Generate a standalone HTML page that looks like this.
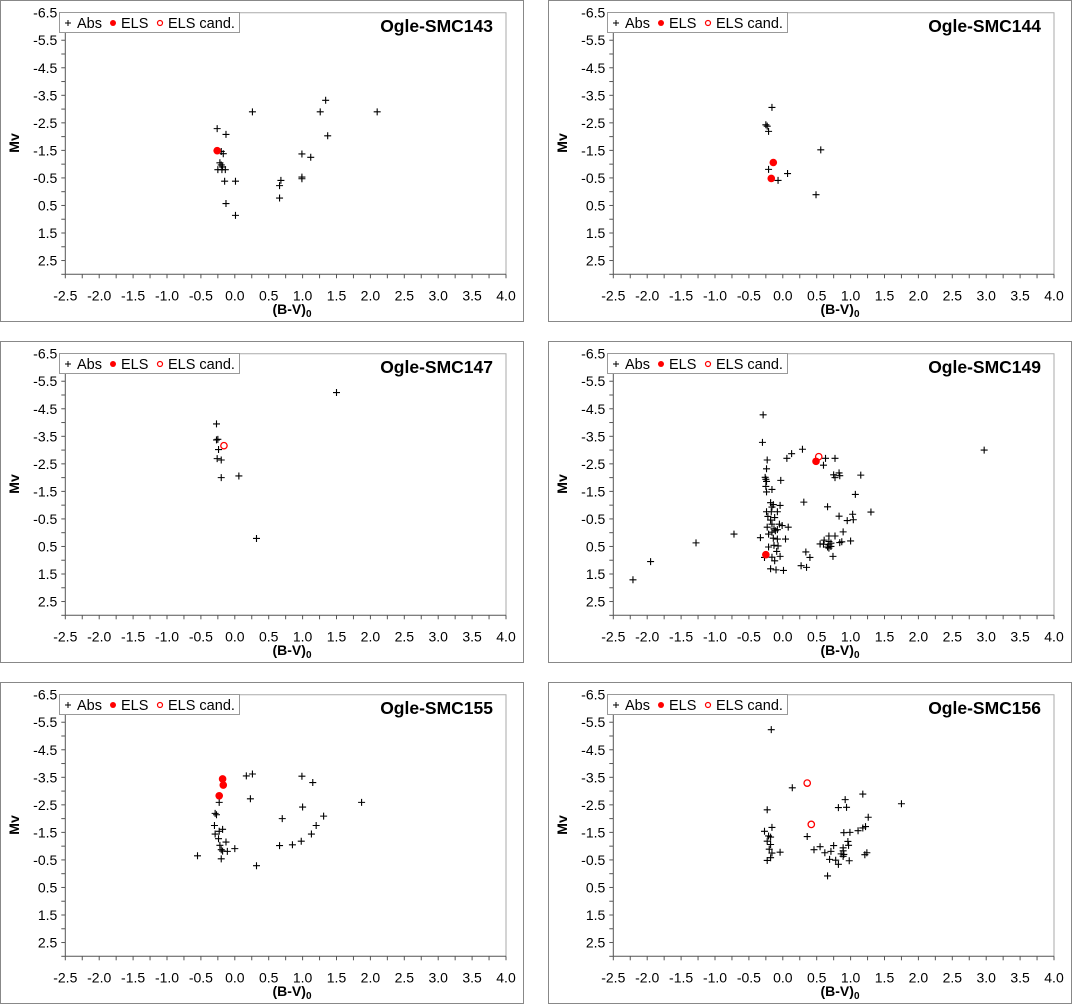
<!DOCTYPE html>
<html><head><meta charset="utf-8">
<style>
html,body{margin:0;padding:0;background:#fff;}
svg{display:block;font-family:"Liberation Sans",Arial,sans-serif;}
</style></head>
<body>
<svg id="c" width="1072" height="1005" viewBox="0 0 1072 1005" xmlns="http://www.w3.org/2000/svg"></svg>
<script>
const panelNames = ["Ogle-SMC143","Ogle-SMC144","Ogle-SMC147","Ogle-SMC149","Ogle-SMC155","Ogle-SMC156"];
const xTickLabels = ["-2.5","-2.0","-1.5","-1.0","-0.5","0.0","0.5","1.0","1.5","2.0","2.5","3.0","3.5","4.0"];
const yTickLabels = ["-6.5","-5.5","-4.5","-3.5","-2.5","-1.5","-0.5","0.5","1.5","2.5"];

const abs143 = [[-0.26,-2.29],[-0.13,-2.08],[0.26,-2.9],[1.34,-3.32],[1.26,-2.9],[2.10,-2.9],[1.37,-2.03],[0.99,-1.37],[1.12,-1.25],[-0.2,-1.46],[-0.17,-1.38],[-0.22,-1.05],[-0.2,-0.97],[-0.18,-0.9],[-0.25,-0.8],[-0.19,-0.8],[-0.14,-0.8],[-0.15,-0.38],[0.01,-0.38],[0.99,-0.53],[0.99,-0.47],[0.68,-0.41],[0.66,-0.22],[0.66,0.23],[-0.13,0.43],[0.01,0.86]];
const els143 = [[-0.26,-1.49]];
const cand143 = [];

const abs144 = [[-0.16,-3.06],[-0.25,-2.43],[-0.23,-2.38],[-0.21,-2.19],[0.56,-1.52],[-0.21,-0.81],[0.07,-0.66],[-0.07,-0.41],[0.49,0.11]];
const els144 = [[-0.14,-1.06],[-0.17,-0.48]];
const cand144 = [];

const abs147 = [[1.50,-5.09],[-0.27,-3.95],[-0.27,-3.37],[-0.25,-3.39],[-0.24,-3.02],[-0.26,-2.69],[-0.2,-2.64],[-0.2,-2.0],[0.06,-2.06],[0.32,0.21]];
const els147 = [];
const cand147 = [[-0.16,-3.16]];

const abs149 = [[-0.29,-4.28],[-0.30,-3.28],[0.29,-3.03],[0.13,-2.87],[0.06,-2.70],[-0.23,-2.64],[-0.24,-2.32],[-0.26,-2.01],[-0.25,-1.94],[-0.24,-1.86],[-0.03,-1.9],[-0.16,-1.57],[-0.25,-1.68],[-0.24,-1.48],[0.63,-2.7],[0.77,-2.7],[0.60,-2.45],[0.75,-2.1],[0.77,-2.0],[0.83,-2.17],[0.84,-2.07],[1.15,-2.09],[1.07,-1.39],[0.31,-1.11],[0.66,-0.94],[1.30,-0.75],[1.03,-0.67],[1.04,-0.47],[0.95,-0.44],[0.83,-0.6],[0.89,-0.03],[1.0,0.3],[0.84,0.36],[0.87,0.33],[0.77,0.12],[0.68,0.12],[0.61,0.27],[0.55,0.41],[0.60,0.42],[0.68,0.32],[0.71,0.38],[0.68,0.44],[0.71,0.5],[0.66,0.52],[0.68,0.56],[0.74,0.86],[0.34,0.7],[0.40,0.9],[0.27,1.2],[0.35,1.26],[-0.18,1.31],[-0.10,1.35],[0.01,1.37],[-0.18,-1.09],[-0.14,-1.02],[-0.16,-0.93],[-0.04,-0.99],[-0.24,-0.76],[-0.17,-0.76],[-0.08,-0.76],[-0.22,-0.59],[-0.12,-0.55],[-0.18,-0.46],[-0.16,-0.31],[-0.05,-0.31],[-0.23,-0.2],[-0.13,-0.14],[-0.08,-0.11],[-0.01,-0.26],[0.08,-0.2],[-0.21,0.05],[-0.16,-0.02],[-0.11,-0.07],[-0.14,0.2],[-0.08,0.23],[0.04,0.23],[-0.21,0.52],[-0.13,0.46],[-0.07,0.48],[-0.09,0.68],[-0.04,0.86],[-0.16,0.89],[-0.12,1.02],[-0.27,0.9],[-0.72,0.05],[-0.33,0.18],[-1.28,0.37],[-1.95,1.05],[-2.21,1.71],[2.97,-3.0]];
const els149 = [[0.49,-2.59],[-0.25,0.80]];
const cand149 = [[0.53,-2.76]];

const abs155 = [[0.26,-3.62],[0.17,-3.55],[0.99,-3.54],[1.15,-3.31],[0.23,-2.72],[-0.23,-2.59],[1.87,-2.59],[1.0,-2.42],[-0.29,-2.19],[-0.27,-2.14],[1.31,-2.09],[0.70,-2.0],[-0.30,-1.75],[1.20,-1.75],[-0.18,-1.61],[-0.23,-1.54],[-0.29,-1.44],[1.13,-1.44],[-0.24,-1.27],[0.98,-1.18],[-0.13,-1.15],[-0.22,-1.03],[0.66,-1.02],[0.85,-1.05],[0.0,-0.91],[-0.2,-0.87],[-0.18,-0.82],[-0.11,-0.81],[-0.55,-0.65],[-0.2,-0.54],[0.32,-0.29]];
const els155 = [[-0.18,-3.44],[-0.17,-3.22],[-0.23,-2.83]];
const cand155 = [];

const abs156 = [[-0.17,-5.23],[0.14,-3.12],[1.18,-2.89],[0.92,-2.69],[0.82,-2.4],[0.94,-2.41],[1.75,-2.54],[-0.23,-2.32],[1.26,-2.05],[-0.16,-1.68],[1.22,-1.71],[1.18,-1.66],[1.11,-1.56],[-0.27,-1.54],[0.9,-1.49],[0.99,-1.5],[-0.21,-1.37],[-0.18,-1.33],[0.36,-1.35],[-0.23,-1.18],[0.96,-1.17],[-0.18,-1.06],[0.75,-1.02],[0.97,-1.03],[0.55,-0.98],[0.89,-0.94],[-0.2,-0.89],[0.46,-0.87],[0.89,-0.83],[-0.04,-0.78],[0.62,-0.76],[0.71,-0.81],[-0.16,-0.75],[0.86,-0.72],[0.9,-0.7],[1.21,-0.69],[1.24,-0.76],[0.89,-0.63],[-0.18,-0.58],[-0.23,-0.48],[0.69,-0.52],[0.78,-0.49],[0.98,-0.47],[0.82,-0.34],[0.66,0.08]];
const els156 = [];
const cand156 = [[0.36,-3.29],[0.42,-1.79]];

const absSets = [abs143,abs144,abs147,abs149,abs155,abs156];
const elsSets = [els143,els144,els147,els149,els155,els156];
const candSets = [cand143,cand144,cand147,cand149,cand155,cand156];

const NS = "http://www.w3.org/2000/svg";
const svg = document.getElementById('c');
function mk(tag, attrs, parent){const e=document.createElementNS(NS,tag);for(const k in attrs)e.setAttribute(k,attrs[k]);(parent||svg).appendChild(e);return e;}

const origins = [[0,0],[548,0],[0,341],[548,341],[0,682],[548,682]];
const X0=65.3, X1=506, Y0=12.7, Y1=274.3, XMIN=-2.5, XMAX=4.0, YMIN=-6.5, YMAX=3.0;

panelNames.forEach((name,i)=>{
  const [ox,oy]=origins[i];
  const g=mk('g',{transform:`translate(${ox},${oy})`});
  
  
  const sx=v=>X0+(v-XMIN)/(XMAX-XMIN)*(X1-X0);
  const sy=v=>Y0+(v-YMIN)/(YMAX-YMIN)*(Y1-Y0);
  const frame=mk('rect',{x:0.5,y:0.5,width:523,height:321,fill:'#fff',stroke:'#888','stroke-width':1},g);
  
  
  const pf=mk('path',{d:`M${X0},${Y0}H${X1}V${Y1}`,fill:'none',stroke:'#aaa','stroke-width':1},g);
  
  
  const yax=mk('line',{x1:X0,y1:Y0,x2:X0,y2:Y1,stroke:'#555','stroke-width':1},g);
  
  
  const xax=mk('line',{x1:X0,y1:Y1,x2:X1,y2:Y1,stroke:'#555','stroke-width':1},g);
  
  
  for(let v=XMIN; v<=XMAX+1e-6; v+=0.25){
    mk('line',{x1:sx(v),y1:Y1,x2:sx(v),y2:Y1+4,stroke:'#555','stroke-width':1},g);
  }
  xTickLabels.forEach(l=>{
    const t=mk('text',{x:sx(parseFloat(l)),y:Y1+26,'text-anchor':'middle','font-size':14,fill:'#000'},g);
    t.textContent=l;
    
    
  });
  for(let v=YMIN; v<=YMAX+1e-6; v+=0.5){
    mk('line',{x1:X0-4,y1:sy(v),x2:X0,y2:sy(v),stroke:'#555','stroke-width':1},g);
  }
  yTickLabels.forEach(l=>{
    const t=mk('text',{x:X0-8,y:sy(parseFloat(l))+5,'text-anchor':'end','font-size':14,fill:'#000'},g);
    t.textContent=l;
    
    
  });
  const xt=mk('text',{x:292,y:314,'text-anchor':'middle','font-size':14,'font-weight':'bold',fill:'#000'},g);
  xt.innerHTML='(B-V)<tspan font-size="10" dy="3">0</tspan>';
  
  
  const yt=mk('text',{x:0,y:0,transform:'translate(19,143) rotate(-90)','text-anchor':'middle','font-size':14,'font-weight':'bold',fill:'#000'},g);
  yt.textContent='Mv';
  
  
  const tt=mk('text',{x:493,y:32,'text-anchor':'end','font-size':17.5,'font-weight':'bold',fill:'#000'},g);
  tt.textContent=name;
  
  
  const lg=mk('g',{},g);
  
  
  mk('rect',{x:59.5,y:12.5,width:180,height:20,fill:'#fff',stroke:'#999','stroke-width':1},lg);
  mk('path',{d:'M65,23H71M68,20V26',stroke:'#000','stroke-width':1},lg);
  const l1=mk('text',{x:77,y:28,'font-size':14.5,fill:'#000'},lg); l1.textContent='Abs';
  
  
  mk('circle',{cx:113,cy:23,r:3,fill:'#f00'},lg);
  const l2=mk('text',{x:121,y:28,'font-size':14.5,fill:'#000'},lg); l2.textContent='ELS';
  
  
  mk('circle',{cx:160,cy:23,r:2.5,fill:'none',stroke:'#f00','stroke-width':1.2},lg);
  const l3=mk('text',{x:168,y:28,'font-size':14.5,fill:'#000'},lg); l3.textContent='ELS cand.';
  
  
  absSets[i].forEach(p=>{
    const x=sx(p[0]), y=sy(p[1]);
    const c=mk('path',{d:`M${x-3.5},${y}H${x+3.5}M${x},${y-3.5}V${y+3.5}`,stroke:'#000','stroke-width':1.1},g);
    
    
  });
  candSets[i].forEach(p=>{
    const c=mk('circle',{cx:sx(p[0]),cy:sy(p[1]),r:3.2,fill:'#fff',stroke:'#f00','stroke-width':1.3},g);
    
    
  });
  elsSets[i].forEach(p=>{
    const c=mk('circle',{cx:sx(p[0]),cy:sy(p[1]),r:3.8,fill:'#f00'},g);
    
    
  });
});
</script>
</body></html>
